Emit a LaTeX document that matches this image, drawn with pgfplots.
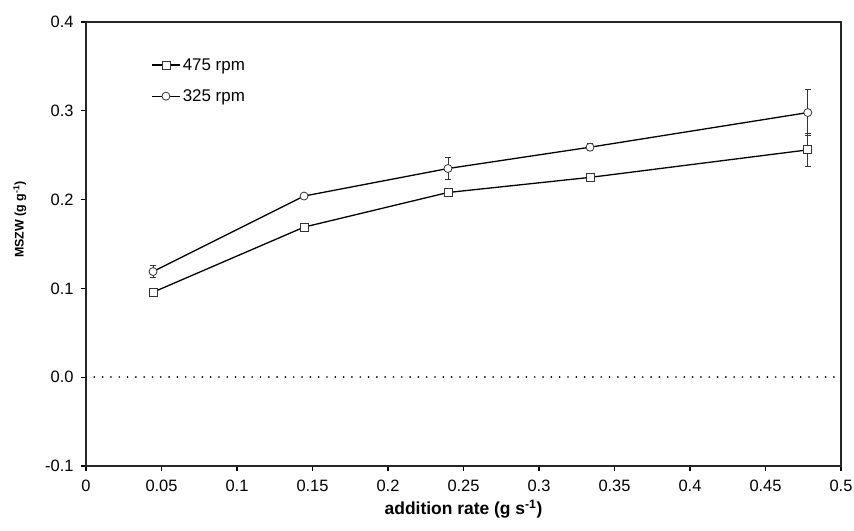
\documentclass[border=0pt]{standalone}
\usepackage{pgfplots}
\pgfplotsset{compat=1.18}
\usepackage{fontspec}
\setmainfont{Liberation Sans}

\begin{document}
\begin{tikzpicture}
\begin{axis}[
    scale only axis,
    width=755bp, height=444bp,
    xmin=0, xmax=0.5,
    ymin=-0.1, ymax=0.4,
    xtick={0,0.05,...,0.5},
    ytick={-0.1,0,0.1,0.2,0.3,0.4},
    xtick pos=bottom, ytick pos=left,
    tick align=outside,
    major tick length=5bp,
    every tick/.style={black, line width=1.2bp},
    axis line style={line width=1.6bp, black!85},
    yticklabel style={xshift=-4bp, /pgf/number format/fixed, /pgf/number format/fixed zerofill, /pgf/number format/precision=1},
    xticklabel style={yshift=-6bp, /pgf/number format/fixed, /pgf/number format/precision=2},
    /pgf/number format/assume math mode=true,
    tick label style={font=\fontsize{16.5}{19}\selectfont},
    xlabel={\textbf{addition rate (g s\textsuperscript{-1})}},
    ylabel={\textbf{MSZW (g g\textsuperscript{-1})}},
    xlabel style={font=\fontsize{17.5}{20}\selectfont, yshift=-1bp},
    ylabel style={font=\fontsize{12.5}{15}\selectfont, at={(ticklabel cs:0.555)}, yshift=12bp},
    legend style={draw=none, fill=none, at={(rel axis cs:0.086,0.923)}, anchor=north west,
        font=\fontsize{17}{20}\selectfont, row sep=14bp, inner sep=0pt},
    legend cell align=left,
    legend image code/.code={
        \draw[#1, mark repeat=2, mark phase=2] plot coordinates {(0cm,0cm) (0.5cm,0cm) (1cm,0cm)};},
]
\addplot[black, line width=1.3bp, mark=square*,
    mark options={fill=white, draw=black!80, line width=0.8bp, mark size=4bp},
    error bars/.cd, y dir=both, y explicit,
    error bar style={black!80, line width=0.8bp},
    error mark options={rotate=90, mark size=3bp, black!80, line width=0.8bp}]
coordinates {
    (0.0444,0.0957) +- (0,0.003)
    (0.1444,0.169) +- (0,0.003)
    (0.2397,0.208) +- (0,0.003)
    (0.3338,0.225) +- (0,0.003)
    (0.478,0.256) +- (0,0.019)
};
\addlegendentry{475 rpm}
\addplot[black, line width=1.3bp, mark=*,
    mark options={fill=white, draw=black!80, line width=0.8bp, mark size=4bp},
    error bars/.cd, y dir=both, y explicit,
    error bar style={black!80, line width=0.8bp},
    error mark options={rotate=90, mark size=3bp, black!80, line width=0.8bp}]
coordinates {
    (0.0444,0.119) +- (0,0.007)
    (0.1444,0.204) +- (0,0.003)
    (0.2397,0.235) +- (0,0.012)
    (0.3338,0.259) +- (0,0.004)
    (0.478,0.298) +- (0,0.026)
};
\addlegendentry{325 rpm}
\addplot[forget plot, black, line width=1.8bp, dash pattern=on 0.01bp off 8.3bp, line cap=round]
coordinates {(0,0) (0.5,0)};
\coordinate (ll) at (rel axis cs:0,0);
\coordinate (ur) at (rel axis cs:1,1);
\end{axis}
\pgfresetboundingbox
\path ([shift={(-86bp,-65bp)}]ll) rectangle ([shift={(13bp,22bp)}]ur);
\end{tikzpicture}
\end{document}
